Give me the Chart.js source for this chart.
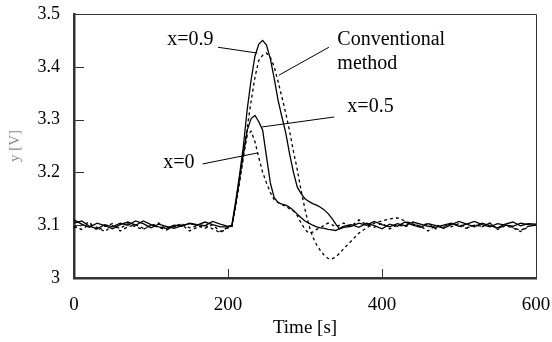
<!DOCTYPE html>
<html>
<head>
<meta charset="utf-8">
<style>
  html, body { margin: 0; padding: 0; background: #fff; }
  #wrap { width: 552px; height: 342px; }
</style>
<script src="https://cdn.jsdelivr.net/npm/chart.js@4"></script>
</head>
<body>
<div id="wrap"><canvas id="myChart" width="552" height="342"></canvas></div>
<script>
const times = [
    0, 10, 20, 30, 40, 50, 60, 70, 80, 90, 100, 110, 120, 130, 140, 150, 160, 170, 180, 190, 200,
    205, 210, 215, 220, 225, 230, 235, 240, 245, 250, 255, 260, 265, 270, 275, 280, 285, 290, 295,
    300, 305, 310, 315, 320, 325, 330, 335, 340, 345, 350,
    360, 370, 380, 390, 400, 410, 420, 430, 440, 450, 460, 470, 480, 490, 500, 510, 520, 530, 540,
    550, 560, 570, 580, 590, 600
];

const x09 = [
    3.104, 3.108, 3.098, 3.093, 3.101, 3.097, 3.104, 3.100, 3.108, 3.103, 3.095, 3.102, 3.098, 3.094, 3.099, 3.103, 3.100, 3.106, 3.101, 3.097, 3.097,
    3.100, 3.145, 3.195, 3.250, 3.320, 3.375, 3.420, 3.443, 3.450, 3.441, 3.415, 3.378, 3.337, 3.305, 3.275, 3.235, 3.200, 3.172, 3.160,
    3.150, 3.145, 3.141, 3.138, 3.134, 3.129, 3.122, 3.113, 3.102, 3.093, 3.096,
    3.098, 3.104, 3.100, 3.107, 3.101, 3.097, 3.103, 3.099, 3.106, 3.102, 3.098, 3.096, 3.100, 3.104, 3.098, 3.102, 3.107, 3.101, 3.097,
    3.103, 3.100, 3.098, 3.104, 3.101, 3.100
];

const conventional = [
    3.098, 3.092, 3.101, 3.096, 3.088, 3.099, 3.094, 3.103, 3.097, 3.092, 3.100, 3.096, 3.091, 3.098, 3.103, 3.095, 3.099, 3.094, 3.101, 3.088, 3.096,
    3.098, 3.135, 3.180, 3.230, 3.285, 3.335, 3.380, 3.412, 3.422, 3.426, 3.418, 3.400, 3.372, 3.343, 3.312, 3.278, 3.240, 3.205, 3.165,
    3.130, 3.100, 3.078, 3.063, 3.052, 3.043, 3.037, 3.036, 3.040, 3.047, 3.055,
    3.070, 3.085, 3.095, 3.104, 3.108, 3.112, 3.114, 3.108, 3.102, 3.098, 3.104, 3.093, 3.101, 3.097, 3.103, 3.095, 3.100, 3.098, 3.104,
    3.093, 3.101, 3.096, 3.090, 3.098, 3.100
];

const x05 = [
    3.110, 3.102, 3.096, 3.104, 3.099, 3.093, 3.101, 3.106, 3.100, 3.108, 3.101, 3.097, 3.094, 3.100, 3.098, 3.104, 3.101, 3.099, 3.107, 3.102, 3.098,
    3.098, 3.140, 3.190, 3.236, 3.280, 3.302, 3.308, 3.296, 3.280, 3.230, 3.180, 3.152, 3.143, 3.140, 3.138, 3.134, 3.128, 3.121, 3.114,
    3.108, 3.104, 3.100, 3.097, 3.095, 3.094, 3.092, 3.091, 3.090, 3.094, 3.098,
    3.101, 3.096, 3.104, 3.099, 3.093, 3.102, 3.098, 3.106, 3.100, 3.096, 3.103, 3.099, 3.094, 3.101, 3.107, 3.102, 3.097, 3.104, 3.099,
    3.095, 3.102, 3.106, 3.099, 3.103, 3.102
];

const x0 = [
    3.095, 3.100, 3.106, 3.090, 3.098, 3.103, 3.089, 3.097, 3.101, 3.094, 3.099, 3.104, 3.092, 3.097, 3.101, 3.089, 3.096, 3.100, 3.093, 3.086, 3.095,
    3.097, 3.140, 3.185, 3.230, 3.270, 3.278, 3.258, 3.228, 3.200, 3.180, 3.162, 3.148, 3.143, 3.139, 3.136, 3.131, 3.127, 3.118, 3.104,
    3.092, 3.085, 3.087, 3.092, 3.095, 3.100, 3.104, 3.101, 3.097, 3.100, 3.104,
    3.098, 3.110, 3.101, 3.096, 3.104, 3.093, 3.101, 3.097, 3.103, 3.098, 3.089, 3.100, 3.096, 3.103, 3.099, 3.094, 3.101, 3.097, 3.104,
    3.092, 3.099, 3.095, 3.088, 3.097, 3.101
];

const xTicks = [0, 200, 400, 600];
const yTicks = [3, 3.1, 3.2, 3.3, 3.4, 3.5];

// labels with leader lines, in data units
const labels = [
    { text: ["x=0.9"], at: [121, 3.451], from: [187, 3.437], to: [238, 3.426] },
    { text: ["Conventional", "method"], at: [342, 3.452], from: [331, 3.437], to: [266, 3.384] },
    { text: ["x=0.5"], at: [355, 3.325], from: [338, 3.305], to: [244, 3.286] },
    { text: ["x=0"], at: [116, 3.219], from: [167, 3.216], to: [239, 3.237] }
];

const serif = "'Liberation Serif', 'Times New Roman', serif";
const pts = ys => times.map((t, i) => ({ x: t, y: ys[i] }));

function series(label, ys, dashed) {
    return {
        label: label,
        data: pts(ys),
        borderColor: "#000",
        borderWidth: 1.3,
        borderDash: dashed ? [3, 3] : [],
        pointRadius: 0,
        tension: 0,
        fill: false
    };
}

// thin top/right frame, inward tick marks, leader labels
const framePlugin = {
    id: "frame",
    afterDatasetsDraw(chart) {
        const { ctx, chartArea: a, scales: { x, y } } = chart;
        ctx.save();
        ctx.strokeStyle = "#333";
        ctx.lineWidth = 1;
        ctx.beginPath();
        ctx.moveTo(a.left, a.top + 0.5);
        ctx.lineTo(a.right + 0.5, a.top + 0.5);
        ctx.lineTo(a.right + 0.5, a.bottom);
        ctx.stroke();

        ctx.beginPath();
        yTicks.slice(1, -1).forEach(v => {
            const py = Math.round(y.getPixelForValue(v)) + 0.5;
            ctx.moveTo(a.left, py);
            ctx.lineTo(a.left + 10, py);
        });
        xTicks.slice(1, -1).forEach(v => {
            const px = Math.round(x.getPixelForValue(v)) + 0.5;
            ctx.moveTo(px, a.bottom);
            ctx.lineTo(px, a.bottom - 9);
        });
        ctx.stroke();

        ctx.strokeStyle = "#000";
        ctx.fillStyle = "#000";
        ctx.font = "20px " + serif;
        ctx.textAlign = "left";
        ctx.textBaseline = "middle";
        labels.forEach(l => {
            ctx.beginPath();
            ctx.moveTo(x.getPixelForValue(l.from[0]), y.getPixelForValue(l.from[1]));
            ctx.lineTo(x.getPixelForValue(l.to[0]), y.getPixelForValue(l.to[1]));
            ctx.stroke();
            const tx = x.getPixelForValue(l.at[0]);
            const ty = y.getPixelForValue(l.at[1]);
            l.text.forEach((s, i) => ctx.fillText(s, tx, ty + i * 24));
        });
        ctx.restore();
    }
};

const ctx = document.getElementById("myChart").getContext("2d");

const myChart = new Chart(ctx, {
    type: "line",
    data: {
        datasets: [
            series("x=0.9", x09, false),
            series("Conventional method", conventional, true),
            series("x=0.5", x05, false),
            series("x=0", x0, true)
        ]
    },
    options: {
        responsive: false,
        animation: false,
        layout: { padding: { top: 14, right: 16, left: 0, bottom: 0 } },
        plugins: {
            legend: { display: false },
            tooltip: { enabled: false }
        },
        scales: {
            x: {
                type: "linear",
                min: 0,
                max: 600,
                afterFit: s => { s.height = 64; s.paddingLeft = 0; s.paddingRight = 0; },
                afterBuildTicks: s => { s.ticks = xTicks.map(v => ({ value: v })); },
                grid: { display: false, drawTicks: false },
                border: { display: true, color: "#333", width: 2.5 },
                ticks: { color: "#000", font: { family: serif, size: 19 }, padding: 16, maxRotation: 0 },
                title: { display: true, text: "Time [s]", color: "#000", font: { family: serif, size: 19 }, padding: { top: 0, bottom: 3 } }
            },
            y: {
                min: 3,
                max: 3.5,
                afterFit: s => { s.width = 74; s.paddingTop = 0; s.paddingBottom = 0; },
                afterBuildTicks: s => { s.ticks = yTicks.map(v => ({ value: v })); },
                grid: { display: false, drawTicks: false },
                border: { display: true, color: "#333", width: 2.5 },
                ticks: {
                    color: "#000",
                    font: { family: serif, size: 18 },
                    padding: 14,
                    callback: v => String(+v.toFixed(1))
                },
                title: { display: true, text: "y [V]", color: "#8a8a8a", font: { family: serif, size: 15 }, padding: { top: 6, bottom: 0 } }
            }
        }
    },
    plugins: [framePlugin]
});
</script>
</body>
</html>
